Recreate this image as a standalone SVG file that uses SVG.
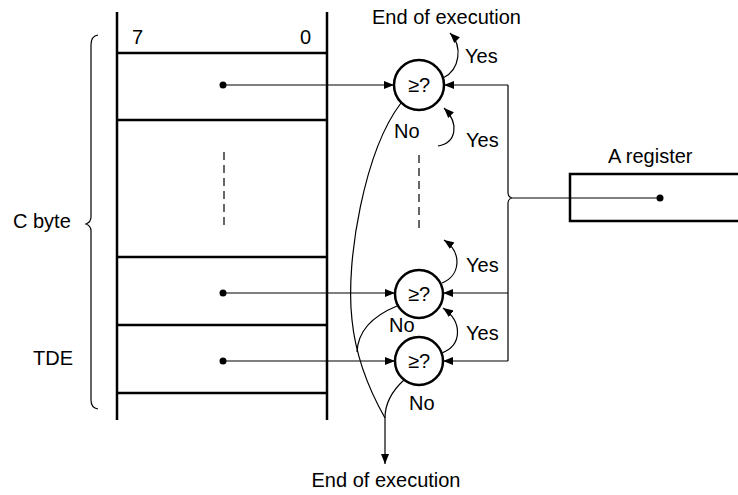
<svg xmlns="http://www.w3.org/2000/svg" width="738" height="495" viewBox="0 0 738 495">
<style>
text{font-family:"Liberation Sans",Arial,sans-serif;font-size:20px;fill:#000}
.thick{stroke:#000;stroke-width:2.5;fill:none}
.thin{stroke:#000;stroke-width:1.2;fill:none}
.dash{stroke:#000;stroke-width:1.2;stroke-dasharray:8,5;fill:none}
.c{text-anchor:middle}
</style>
<defs>
<marker id="ah" viewBox="0 0 10 8" refX="10" refY="4" markerWidth="10" markerHeight="8" markerUnits="userSpaceOnUse" orient="auto">
<path d="M0,0 L10,4 L0,8 Z" fill="#000"/>
</marker>
</defs>
<g id="memory">
<path class="thick" d="M117,12 V420 M327,12 V420 M117,53 H327 M117,120 H327 M117,257 H327 M117,325 H327 M117,393 H327"/>
<text x="132" y="44">7</text>
<text x="300" y="44">0</text>
<path class="dash" d="M224,152 V228"/>
<circle cx="223" cy="85" r="3.5"/>
<circle cx="223" cy="293" r="3.5"/>
<circle cx="223" cy="361" r="3.5"/>
</g>
<g id="cbyte">
<path class="thin" d="M98,35 Q91,36 91,45 L91,217 Q91,222 86,224 Q91,226 91,231 L91,400 Q91,408 98,409"/>
<text x="13" y="228">C byte</text>
<text x="33" y="365">TDE</text>
</g>
<g id="cmp1">
<circle class="thick" cx="419" cy="85" r="25"/>
<text class="c" x="419" y="92">≥?</text>
</g>
<g id="cmp2">
<circle class="thick" cx="419" cy="294" r="24"/>
<text class="c" x="419" y="301">≥?</text>
</g>
<g id="cmp3">
<circle class="thick" cx="419" cy="361" r="24"/>
<text class="c" x="419" y="368">≥?</text>
</g>
<g id="areg">
<path class="thick" d="M740,174 H570 V221 H740"/>
<text x="608" y="163">A register</text>
<circle cx="660" cy="198" r="3.5"/>
</g>
<g id="connectors">
<path class="thin" marker-end="url(#ah)" d="M223,85 H394"/>
<path class="thin" marker-end="url(#ah)" d="M223,293 H395"/>
<path class="thin" marker-end="url(#ah)" d="M223,361 H395"/>
<path class="thin" d="M660,198 H512 Q508,199 508,203 L508,361 M512,198 Q508,197 508,193 L508,85"/>
<path class="thin" marker-end="url(#ah)" d="M508,85 H444"/>
<path class="thin" marker-end="url(#ah)" d="M508,293 H443"/>
<path class="thin" marker-end="url(#ah)" d="M508,361 H443"/>
<path class="thin" marker-end="url(#ah)" d="M443,78 C460,70 463,46 450,33"/>
<path class="thin" marker-end="url(#ah)" d="M438,146 C456,143 460,124 444,108"/>
<path class="thin" marker-end="url(#ah)" d="M442,283 C460,276 463,253 444,240"/>
<path class="thin" marker-end="url(#ah)" d="M442,353 C462,345 463,322 443,308"/>
<path class="dash" d="M419,155 V228"/>
<path class="thin" d="M401,103 C365,150 345,260 352,320 C356,360 372,395 385,418"/>
<path class="thin" d="M397,306 C375,315 358,330 357,352"/>
<path class="thin" d="M404,380 C393,390 385,402 385,418"/>
<path class="thin" marker-end="url(#ah)" d="M385,418 V464"/>
<text x="372" y="24">End of execution</text>
<text x="465" y="63">Yes</text>
<text x="394" y="138">No</text>
<text x="466" y="147">Yes</text>
<text x="466" y="272">Yes</text>
<text x="389" y="332">No</text>
<text x="466" y="340">Yes</text>
<text x="409" y="410">No</text>
<text class="c" x="386" y="487">End of execution</text>
</g>
</svg>
